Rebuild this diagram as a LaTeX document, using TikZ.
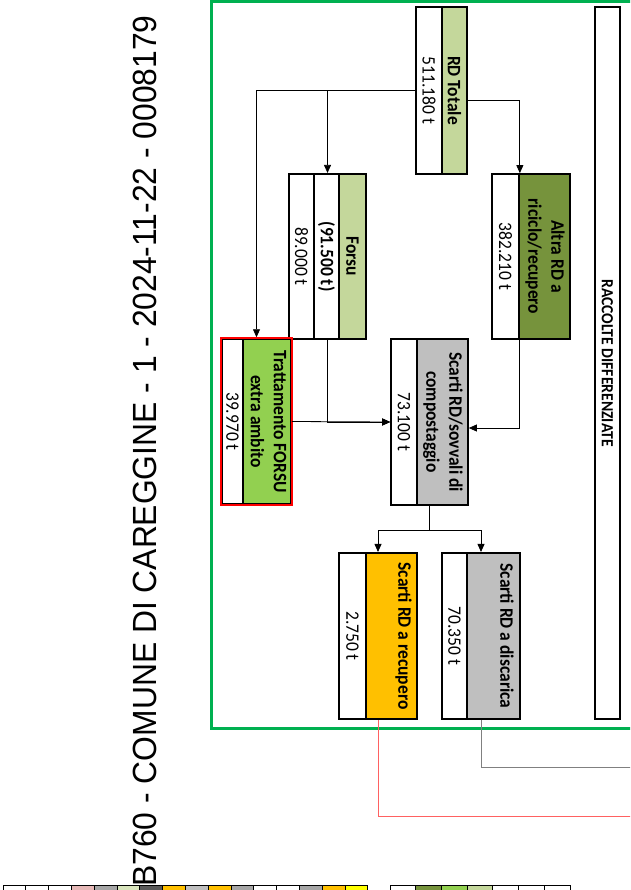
\documentclass[tikz,border=0pt]{standalone}
\usepackage{fontspec}
\setmainfont{Carlito}
\newfontfamily\titlefont{Liberation Sans}
\usepackage{graphicx}
\usetikzlibrary{arrows.meta,fit}

\definecolor{rdchiaro}{HTML}{C4D79B}
\definecolor{oliva}{HTML}{76933C}
\definecolor{verde}{HTML}{92D050}
\definecolor{grigio}{HTML}{BFBFBF}
\definecolor{arancio}{HTML}{FFC000}
\definecolor{cornice}{HTML}{00B050}
\definecolor{rossochiaro}{HTML}{FF6161}
\definecolor{rosa}{HTML}{E6B8B7}
\definecolor{verdino}{HTML}{D8E4BC}
\definecolor{grigioscuro}{HTML}{595959}
\definecolor{grigiomedio}{HTML}{A6A6A6}
\definecolor{giallo}{HTML}{FFFF00}

% testo verticale, una riga o due righe
\newcommand{\vtxt}[1]{\rotatebox{-90}{\scalebox{0.92}[1]{#1}}}
\newcommand{\vtxtd}[1]{\rotatebox{-90}{\scalebox{0.92}[1]{\begin{tabular}{@{}c@{}}#1\end{tabular}}}}

\begin{document}
\begin{tikzpicture}[x=1pt, y=-1pt,
  striscia/.style={draw, line width=1.7pt, inner sep=0pt, fill=white, minimum height=#1,
    font=\fontsize{19}{23}\selectfont},
  titolo/.style={striscia=#1, font=\fontsize{19}{23}\selectfont\bfseries},
  freccia/.style={draw, line width=0.8pt, -{Triangle[length=8pt,width=7pt]}},
  uscita/.style={draw, line width=1pt}]
\useasboundingbox (0,0) rectangle (630,890);
\clip (0,0) rectangle (630,890);

% intestazione
\node[rotate=90, inner sep=0pt, font=\titlefont\fontsize{33.5}{35}\selectfont] (intestazione) at (145,451)
  {\scalebox{0.95}[1]{B760 - COMUNE DI CAREGGINE - 1 - 2024-11-22 - 0008179}};

% cornice verde
\draw[cornice, line width=3pt] (211,1.3) rectangle (680,728);

% RD totale
\node[striscia=167, minimum width=26] (totv) at (429,90.5) {\vtxt{511.180 t}};
\node[titolo=167, minimum width=25, fill=rdchiaro] (tot) at (454.5,90.5) {\vtxt{RD Totale}};
\node[fit=(totv)(tot), inner sep=0pt] (totbox) {};

% raccolte differenziate
\node[titolo=712, minimum width=25, font=\fontsize{17}{20}\selectfont\bfseries] (racc) at (607.5,363)
  {\vtxt{RACCOLTE DIFFERENZIATE}};

% Forsu
\node[striscia=165, minimum width=25] (forsuv) at (301.5,256.5) {\vtxt{89.000 t}};
\node[titolo=165, minimum width=25] (forsup) at (326.5,256.5) {\vtxt{(91.500 t)}};
\node[titolo=165, minimum width=27, fill=rdchiaro] (forsu) at (352.5,256.5) {\vtxt{Forsu}};
\node[fit=(forsuv)(forsu), inner sep=0pt] (forsubox) {};

% altra RD
\node[striscia=165, minimum width=27] (altrav) at (505.5,256.5) {\vtxt{382.210 t}};
\node[titolo=165, minimum width=51, fill=oliva] (altra) at (544.5,256.5) {\vtxtd{Altra RD a\\riciclo/recupero}};
\node[fit=(altrav)(altra), inner sep=0pt] (altrabox) {};

% trattamento extra ambito
\node[striscia=165, minimum width=21] (tratv) at (232.5,421.5) {\vtxt{39.970 t}};
\node[titolo=165, minimum width=48, fill=verde] (trat) at (267,421.5) {\vtxtd{Trattamento FORSU\\extra ambito}};
\node[fit=(tratv)(trat), inner sep=0pt, draw=red, line width=1.8pt] (tratbox) {};

% scarti di compostaggio
\node[striscia=166, minimum width=26] (scartiv) at (404,422) {\vtxt{73.100 t}};
\node[titolo=166, minimum width=51, fill=grigio] (scarti) at (442.5,422) {\vtxtd{Scarti RD/sovvali di\\compostaggio}};
\node[fit=(scartiv)(scarti), inner sep=0pt] (scartibox) {};

% scarti a recupero / discarica
\node[striscia=166, minimum width=27] (recv) at (352.5,636) {\vtxt{2.750 t}};
\node[titolo=166, minimum width=51, fill=arancio] (rec) at (391.5,636) {\vtxtd{Scarti RD a recupero\\ \mbox{}}};
\node[fit=(recv)(rec), inner sep=0pt] (recbox) {};
\node[striscia=166, minimum width=25] (disv) at (454.5,636) {\vtxt{70.350 t}};
\node[titolo=166, minimum width=53, fill=grigio] (dis) at (493.5,636) {\vtxtd{Scarti RD a discarica\\ \mbox{}}};
\node[fit=(disv)(dis), inner sep=0pt] (disbox) {};

% collegamenti
\draw[freccia] (totv.west) -| (tratbox.north);
\draw[freccia] (totv.west) -| (forsubox.north);
\draw[freccia] ([yshift=-9.5pt]tot.east) -| (altrav.north east);
\draw[freccia] (forsubox.south) |- (scartiv.west);
\draw[freccia] (trat.east) -- (scartiv.west);
\draw[freccia] (altrav.south east) |- ([yshift=-6pt]scarti.east);
\draw[line width=1.6pt] (scartibox.south) -- ++(0,24);
\draw[freccia] (scartibox.south) -- ++(0,24) -| (recbox.north);
\draw[freccia] (scartibox.south) -- ++(0,24) -| (disbox.north);

% uscite verso destra
\coordinate (uscitarossa) at (640,816);
\coordinate (uscitagrigia) at (640,767);
\draw[uscita, rossochiaro] (recbox.south) |- (uscitarossa);
\draw[uscita, gray] (disbox.south) |- (uscitagrigia);

% legenda in basso
\foreach \c [count=\i] in {white,white,white,rosa,grigiomedio,verdino,grigioscuro,arancio,
    grigio,arancio,grigiomedio,white,white,grigiomedio,arancio,giallo}
  \draw[line width=0.8pt, fill=\c] ({3+22.8*(\i-1)},885) rectangle ++(22.8,12);
\foreach \c [count=\i] in {white,oliva,verde,rdchiaro,white,white,white}
  \draw[line width=0.8pt, fill=\c] ({390+25.7*(\i-1)},885) rectangle ++(25.7,12);
\end{tikzpicture}
\end{document}
